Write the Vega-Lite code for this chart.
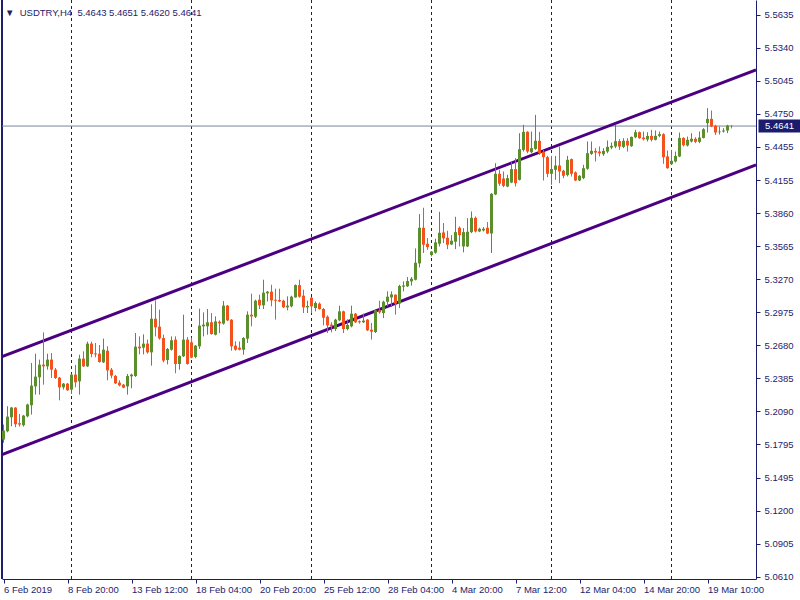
{
  "$schema": "https://vega.github.io/schema/vega-lite/v6.json",
  "width": 754,
  "height": 579,
  "autosize": {"type": "none"},
  "padding": {"left": 2, "top": 0, "right": 44, "bottom": 21},
  "background": "white",
  "config": {
    "view": {"stroke": null},
    "font": "Liberation Sans"
  },
  "title": {
    "text": "▼\u00a0\u00a0USDTRY,H4\u00a0\u00a05.4643 5.4651 5.4620 5.4641",
    "anchor": "start",
    "frame": "group",
    "orient": "top",
    "offset": -13,
    "baseline": "alphabetic",
    "dx": 3,
    "dy": 13,
    "font": "Liberation Sans",
    "fontSize": 9.5,
    "fontWeight": "normal",
    "color": "#1C1C6E"
  },
  "datasets": {
    "bars": [
      {"i":0,"o":5.1836,"h":5.1970,"l":5.1806,"c":5.1916},
      {"i":1,"o":5.1910,"h":5.2134,"l":5.1901,"c":5.2041},
      {"i":2,"o":5.2035,"h":5.2128,"l":5.1955,"c":5.2122},
      {"i":3,"o":5.2122,"h":5.2125,"l":5.1946,"c":5.1973},
      {"i":4,"o":5.1982,"h":5.2065,"l":5.1952,"c":5.1970},
      {"i":5,"o":5.1964,"h":5.2056,"l":5.1952,"c":5.2050},
      {"i":6,"o":5.2044,"h":5.2157,"l":5.2035,"c":5.2149},
      {"i":7,"o":5.2143,"h":5.2521,"l":5.2059,"c":5.2318},
      {"i":8,"o":5.2312,"h":5.2604,"l":5.2238,"c":5.2399},
      {"i":9,"o":5.2393,"h":5.2551,"l":5.2238,"c":5.2506},
      {"i":10,"o":5.2506,"h":5.2795,"l":5.2327,"c":5.2491},
      {"i":11,"o":5.2491,"h":5.2604,"l":5.2461,"c":5.2551},
      {"i":12,"o":5.2551,"h":5.2610,"l":5.2387,"c":5.2461},
      {"i":13,"o":5.2461,"h":5.2476,"l":5.2378,"c":5.2387},
      {"i":14,"o":5.2390,"h":5.2396,"l":5.2187,"c":5.2303},
      {"i":15,"o":5.2303,"h":5.2342,"l":5.2283,"c":5.2336},
      {"i":16,"o":5.2336,"h":5.2342,"l":5.2271,"c":5.2277},
      {"i":17,"o":5.2283,"h":5.2426,"l":5.2244,"c":5.2417},
      {"i":18,"o":5.2417,"h":5.2503,"l":5.2303,"c":5.2348},
      {"i":19,"o":5.2357,"h":5.2595,"l":5.2238,"c":5.2560},
      {"i":20,"o":5.2560,"h":5.2625,"l":5.2485,"c":5.2491},
      {"i":21,"o":5.2491,"h":5.2712,"l":5.2485,"c":5.2694},
      {"i":22,"o":5.2694,"h":5.2712,"l":5.2572,"c":5.2601},
      {"i":23,"o":5.2607,"h":5.2700,"l":5.2572,"c":5.2598},
      {"i":24,"o":5.2604,"h":5.2682,"l":5.2524,"c":5.2530},
      {"i":25,"o":5.2527,"h":5.2739,"l":5.2521,"c":5.2640},
      {"i":26,"o":5.2631,"h":5.2670,"l":5.2366,"c":5.2455},
      {"i":27,"o":5.2461,"h":5.2476,"l":5.2384,"c":5.2408},
      {"i":28,"o":5.2405,"h":5.2414,"l":5.2333,"c":5.2339},
      {"i":29,"o":5.2345,"h":5.2366,"l":5.2312,"c":5.2321},
      {"i":30,"o":5.2327,"h":5.2333,"l":5.2295,"c":5.2300},
      {"i":31,"o":5.2312,"h":5.2423,"l":5.2238,"c":5.2405},
      {"i":32,"o":5.2402,"h":5.2426,"l":5.2295,"c":5.2417},
      {"i":33,"o":5.2405,"h":5.2789,"l":5.2396,"c":5.2667},
      {"i":34,"o":5.2667,"h":5.2759,"l":5.2598,"c":5.2652},
      {"i":35,"o":5.2658,"h":5.2777,"l":5.2598,"c":5.2694},
      {"i":36,"o":5.2694,"h":5.2730,"l":5.2604,"c":5.2616},
      {"i":37,"o":5.2616,"h":5.3046,"l":5.2497,"c":5.2917},
      {"i":38,"o":5.2917,"h":5.3081,"l":5.2759,"c":5.2840},
      {"i":39,"o":5.2846,"h":5.2998,"l":5.2730,"c":5.2741},
      {"i":40,"o":5.2744,"h":5.2774,"l":5.2527,"c":5.2542},
      {"i":41,"o":5.2548,"h":5.2655,"l":5.2509,"c":5.2646},
      {"i":42,"o":5.2640,"h":5.2759,"l":5.2631,"c":5.2724},
      {"i":43,"o":5.2730,"h":5.2759,"l":5.2429,"c":5.2512},
      {"i":44,"o":5.2512,"h":5.2589,"l":5.2461,"c":5.2584},
      {"i":45,"o":5.2581,"h":5.2953,"l":5.2575,"c":5.2730},
      {"i":46,"o":5.2730,"h":5.2753,"l":5.2506,"c":5.2512},
      {"i":47,"o":5.2706,"h":5.2747,"l":5.2563,"c":5.2569},
      {"i":48,"o":5.2575,"h":5.2682,"l":5.2563,"c":5.2676},
      {"i":49,"o":5.2670,"h":5.3007,"l":5.2646,"c":5.2855},
      {"i":50,"o":5.2849,"h":5.2974,"l":5.2759,"c":5.2864},
      {"i":51,"o":5.2849,"h":5.3004,"l":5.2774,"c":5.2885},
      {"i":52,"o":5.2885,"h":5.2968,"l":5.2774,"c":5.2780},
      {"i":53,"o":5.2774,"h":5.2938,"l":5.2768,"c":5.2893},
      {"i":54,"o":5.2890,"h":5.2902,"l":5.2789,"c":5.2876},
      {"i":55,"o":5.2873,"h":5.3075,"l":5.2864,"c":5.3034},
      {"i":56,"o":5.3034,"h":5.3040,"l":5.2896,"c":5.2902},
      {"i":57,"o":5.2908,"h":5.2914,"l":5.2631,"c":5.2670},
      {"i":58,"o":5.2676,"h":5.2715,"l":5.2631,"c":5.2640},
      {"i":59,"o":5.2658,"h":5.2712,"l":5.2634,"c":5.2640},
      {"i":60,"o":5.2640,"h":5.2753,"l":5.2595,"c":5.2744},
      {"i":61,"o":5.2739,"h":5.2983,"l":5.2700,"c":5.2953},
      {"i":62,"o":5.2953,"h":5.3141,"l":5.2849,"c":5.2938},
      {"i":63,"o":5.2935,"h":5.3087,"l":5.2923,"c":5.3078},
      {"i":64,"o":5.3087,"h":5.3132,"l":5.3004,"c":5.3037},
      {"i":65,"o":5.3037,"h":5.3266,"l":5.3004,"c":5.3150},
      {"i":66,"o":5.3144,"h":5.3165,"l":5.3072,"c":5.3159},
      {"i":67,"o":5.3159,"h":5.3221,"l":5.3028,"c":5.3081},
      {"i":68,"o":5.3087,"h":5.3186,"l":5.2909,"c":5.3078},
      {"i":69,"o":5.3084,"h":5.3186,"l":5.3066,"c":5.3072},
      {"i":70,"o":5.3078,"h":5.3087,"l":5.3013,"c":5.3019},
      {"i":71,"o":5.3019,"h":5.3117,"l":5.2992,"c":5.3034},
      {"i":72,"o":5.3028,"h":5.3123,"l":5.3019,"c":5.3114},
      {"i":73,"o":5.3108,"h":5.3224,"l":5.3105,"c":5.3218},
      {"i":74,"o":5.3218,"h":5.3266,"l":5.3105,"c":5.3114},
      {"i":75,"o":5.3123,"h":5.3177,"l":5.2968,"c":5.3019},
      {"i":76,"o":5.3019,"h":5.3078,"l":5.2968,"c":5.3031},
      {"i":77,"o":5.3105,"h":5.3111,"l":5.2968,"c":5.3028},
      {"i":78,"o":5.3013,"h":5.3072,"l":5.2983,"c":5.3058},
      {"i":79,"o":5.3052,"h":5.3063,"l":5.2998,"c":5.3004},
      {"i":80,"o":5.3004,"h":5.3013,"l":5.2858,"c":5.2926},
      {"i":81,"o":5.2935,"h":5.2947,"l":5.2789,"c":5.2858},
      {"i":82,"o":5.2864,"h":5.2885,"l":5.2795,"c":5.2849},
      {"i":83,"o":5.2825,"h":5.2917,"l":5.2807,"c":5.2909},
      {"i":84,"o":5.2903,"h":5.3034,"l":5.2894,"c":5.2983},
      {"i":85,"o":5.2983,"h":5.2989,"l":5.2789,"c":5.2825},
      {"i":86,"o":5.2825,"h":5.2912,"l":5.2813,"c":5.2861},
      {"i":87,"o":5.2849,"h":5.3034,"l":5.2840,"c":5.2962},
      {"i":88,"o":5.2962,"h":5.2968,"l":5.2879,"c":5.2885},
      {"i":89,"o":5.2894,"h":5.2903,"l":5.2873,"c":5.2885},
      {"i":90,"o":5.2885,"h":5.2962,"l":5.2879,"c":5.2900},
      {"i":91,"o":5.2909,"h":5.2914,"l":5.2807,"c":5.2813},
      {"i":92,"o":5.2819,"h":5.2879,"l":5.2730,"c":5.2801},
      {"i":93,"o":5.2798,"h":5.2998,"l":5.2789,"c":5.2992},
      {"i":94,"o":5.2992,"h":5.3078,"l":5.2962,"c":5.2974},
      {"i":95,"o":5.2968,"h":5.3078,"l":5.2923,"c":5.3069},
      {"i":96,"o":5.3069,"h":5.3162,"l":5.3028,"c":5.3114},
      {"i":97,"o":5.3108,"h":5.3162,"l":5.3022,"c":5.3135},
      {"i":98,"o":5.3132,"h":5.3135,"l":5.2953,"c":5.3052},
      {"i":99,"o":5.3052,"h":5.3221,"l":5.3013,"c":5.3210},
      {"i":100,"o":5.3204,"h":5.3251,"l":5.3162,"c":5.3215},
      {"i":101,"o":5.3207,"h":5.3290,"l":5.3201,"c":5.3254},
      {"i":102,"o":5.3251,"h":5.3290,"l":5.3213,"c":5.3275},
      {"i":103,"o":5.3266,"h":5.3546,"l":5.3260,"c":5.3418},
      {"i":104,"o":5.3412,"h":5.3853,"l":5.3376,"c":5.3731},
      {"i":105,"o":5.3731,"h":5.3910,"l":5.3505,"c":5.3579},
      {"i":106,"o":5.3588,"h":5.3639,"l":5.3534,"c":5.3558},
      {"i":107,"o":5.3487,"h":5.3522,"l":5.3475,"c":5.3517},
      {"i":108,"o":5.3508,"h":5.3633,"l":5.3499,"c":5.3600},
      {"i":109,"o":5.3588,"h":5.3874,"l":5.3564,"c":5.3686},
      {"i":110,"o":5.3689,"h":5.3773,"l":5.3594,"c":5.3636},
      {"i":111,"o":5.3641,"h":5.3704,"l":5.3540,"c":5.3579},
      {"i":112,"o":5.3582,"h":5.3665,"l":5.3576,"c":5.3615},
      {"i":113,"o":5.3606,"h":5.3829,"l":5.3540,"c":5.3692},
      {"i":114,"o":5.3731,"h":5.3743,"l":5.3564,"c":5.3665},
      {"i":115,"o":5.3564,"h":5.3728,"l":5.3511,"c":5.3692},
      {"i":116,"o":5.3564,"h":5.3817,"l":5.3558,"c":5.3695},
      {"i":117,"o":5.3692,"h":5.3877,"l":5.3683,"c":5.3820},
      {"i":118,"o":5.3820,"h":5.3832,"l":5.3689,"c":5.3698},
      {"i":119,"o":5.3698,"h":5.3731,"l":5.3692,"c":5.3722},
      {"i":120,"o":5.3707,"h":5.3737,"l":5.3698,"c":5.3722},
      {"i":121,"o":5.3731,"h":5.3782,"l":5.3674,"c":5.3680},
      {"i":122,"o":5.3680,"h":5.4041,"l":5.3505,"c":5.4035},
      {"i":123,"o":5.4029,"h":5.4309,"l":5.4023,"c":5.4214},
      {"i":124,"o":5.4214,"h":5.4250,"l":5.4106,"c":5.4125},
      {"i":125,"o":5.4172,"h":5.4235,"l":5.4094,"c":5.4106},
      {"i":126,"o":5.4100,"h":5.4205,"l":5.4094,"c":5.4175},
      {"i":127,"o":5.4136,"h":5.4324,"l":5.4130,"c":5.4256},
      {"i":128,"o":5.4256,"h":5.4354,"l":5.4100,"c":5.4130},
      {"i":129,"o":5.4160,"h":5.4577,"l":5.4154,"c":5.4434},
      {"i":130,"o":5.4428,"h":5.4652,"l":5.4413,"c":5.4589},
      {"i":131,"o":5.4589,"h":5.4595,"l":5.4398,"c":5.4413},
      {"i":132,"o":5.4407,"h":5.4592,"l":5.4398,"c":5.4443},
      {"i":133,"o":5.4437,"h":5.4741,"l":5.4428,"c":5.4509},
      {"i":134,"o":5.4509,"h":5.4589,"l":5.4383,"c":5.4398},
      {"i":135,"o":5.4410,"h":5.4428,"l":5.4154,"c":5.4363},
      {"i":136,"o":5.4363,"h":5.4374,"l":5.4184,"c":5.4214},
      {"i":137,"o":5.4214,"h":5.4374,"l":5.4115,"c":5.4256},
      {"i":138,"o":5.4250,"h":5.4374,"l":5.4160,"c":5.4288},
      {"i":139,"o":5.4288,"h":5.4458,"l":5.4130,"c":5.4235},
      {"i":140,"o":5.4241,"h":5.4250,"l":5.4175,"c":5.4196},
      {"i":141,"o":5.4202,"h":5.4374,"l":5.4190,"c":5.4339},
      {"i":142,"o":5.4345,"h":5.4351,"l":5.4190,"c":5.4214},
      {"i":143,"o":5.4226,"h":5.4235,"l":5.4148,"c":5.4154},
      {"i":144,"o":5.4154,"h":5.4202,"l":5.4148,"c":5.4196},
      {"i":145,"o":5.4175,"h":5.4294,"l":5.4166,"c":5.4264},
      {"i":146,"o":5.4259,"h":5.4503,"l":5.4250,"c":5.4398},
      {"i":147,"o":5.4392,"h":5.4503,"l":5.4383,"c":5.4419},
      {"i":148,"o":5.4419,"h":5.4443,"l":5.4324,"c":5.4404},
      {"i":149,"o":5.4413,"h":5.4458,"l":5.4369,"c":5.4398},
      {"i":150,"o":5.4389,"h":5.4443,"l":5.4374,"c":5.4419},
      {"i":151,"o":5.4413,"h":5.4512,"l":5.4398,"c":5.4455},
      {"i":152,"o":5.4449,"h":5.4494,"l":5.4434,"c":5.4464},
      {"i":153,"o":5.4458,"h":5.4652,"l":5.4443,"c":5.4506},
      {"i":154,"o":5.4506,"h":5.4524,"l":5.4428,"c":5.4458},
      {"i":155,"o":5.4455,"h":5.4532,"l":5.4443,"c":5.4509},
      {"i":156,"o":5.4509,"h":5.4532,"l":5.4413,"c":5.4467},
      {"i":157,"o":5.4461,"h":5.4547,"l":5.4455,"c":5.4544},
      {"i":158,"o":5.4541,"h":5.4607,"l":5.4532,"c":5.4586},
      {"i":159,"o":5.4586,"h":5.4592,"l":5.4527,"c":5.4532},
      {"i":160,"o":5.4538,"h":5.4592,"l":5.4512,"c":5.4524},
      {"i":161,"o":5.4521,"h":5.4586,"l":5.4503,"c":5.4553},
      {"i":162,"o":5.4553,"h":5.4607,"l":5.4503,"c":5.4518},
      {"i":163,"o":5.4518,"h":5.4601,"l":5.4512,"c":5.4553},
      {"i":164,"o":5.4553,"h":5.4592,"l":5.4541,"c":5.4568},
      {"i":165,"o":5.4568,"h":5.4577,"l":5.4303,"c":5.4363},
      {"i":166,"o":5.4369,"h":5.4422,"l":5.4259,"c":5.4264},
      {"i":167,"o":5.4300,"h":5.4428,"l":5.4294,"c":5.4330},
      {"i":168,"o":5.4324,"h":5.4413,"l":5.4315,"c":5.4374},
      {"i":169,"o":5.4369,"h":5.4583,"l":5.4363,"c":5.4535},
      {"i":170,"o":5.4535,"h":5.4541,"l":5.4458,"c":5.4470},
      {"i":171,"o":5.4467,"h":5.4547,"l":5.4458,"c":5.4518},
      {"i":172,"o":5.4503,"h":5.4577,"l":5.4494,"c":5.4527},
      {"i":173,"o":5.4527,"h":5.4541,"l":5.4488,"c":5.4500},
      {"i":174,"o":5.4500,"h":5.4592,"l":5.4488,"c":5.4538},
      {"i":175,"o":5.4535,"h":5.4622,"l":5.4530,"c":5.4613},
      {"i":176,"o":5.4667,"h":5.4801,"l":5.4583,"c":5.4705},
      {"i":177,"o":5.4705,"h":5.4780,"l":5.4631,"c":5.4637},
      {"i":178,"o":5.4643,"h":5.4652,"l":5.4562,"c":5.4583},
      {"i":179,"o":5.4586,"h":5.4637,"l":5.4565,"c":5.4592},
      {"i":180,"o":5.4592,"h":5.4622,"l":5.4583,"c":5.4601},
      {"i":181,"o":5.4601,"h":5.4652,"l":5.4577,"c":5.4646},
      {"i":182,"o":5.4643,"h":5.4651,"l":5.4620,"c":5.4641}
    ],
    "channel": [
      {"line":"upper","i":-0.375,"p":5.2578},
      {"line":"upper","i":188.125,"p":5.5143},
      {"line":"lower","i":-0.375,"p":5.1702},
      {"line":"lower","i":188.125,"p":5.4294}
    ],
    "grid": [{"i":17},{"i":47},{"i":77},{"i":107},{"i":137},{"i":167}],
    "price": [{"p":5.4641}]
  },
  "layer": [
    {
      "data": {"name": "grid"},
      "mark": {"type": "rule", "color": "#1C1C6E", "strokeWidth": 1, "strokeDash": [3, 3]},
      "encoding": {
        "x": {"field": "i", "type": "quantitative", "scale": {"domain": [-0.375, 188.125], "nice": false, "zero": false, "padding": 0},
          "axis": {"orient": "bottom", "title": null, "values": [0, 16, 32, 48, 64, 80, 96, 112, 128, 144, 160, 176], "labelExpr": "['6 Feb 2019','8 Feb 20:00','13 Feb 12:00','18 Feb 04:00','20 Feb 20:00','25 Feb 12:00','28 Feb 04:00','4 Mar 20:00','7 Mar 12:00','12 Mar 04:00','14 Mar 20:00','19 Mar 10:00'][round(datum.value / 16)]", "grid": false, "domainColor": "#1C1C6E", "tickColor": "#1C1C6E", "tickSize": 4, "labelColor": "#1C1C6E", "labelFont": "Liberation Sans", "labelFontSize": 9.5, "labelAlign": "left", "labelBaseline": "top", "labelPadding": 1, "labelOverlap": false, "labelFlush": false, "labelBound": false}}
      }
    },
    {
      "data": {"name": "grid"},
      "mark": {"type": "rule", "color": "#1C1C6E", "strokeWidth": 1},
      "encoding": {
        "x": {"datum": -0.375, "type": "quantitative", "scale": {"domain": [-0.375, 188.125], "nice": false, "zero": false, "padding": 0},
          "axis": {"orient": "bottom", "title": null, "values": [0, 16, 32, 48, 64, 80, 96, 112, 128, 144, 160, 176], "labelExpr": "['6 Feb 2019','8 Feb 20:00','13 Feb 12:00','18 Feb 04:00','20 Feb 20:00','25 Feb 12:00','28 Feb 04:00','4 Mar 20:00','7 Mar 12:00','12 Mar 04:00','14 Mar 20:00','19 Mar 10:00'][round(datum.value / 16)]", "grid": false, "domainColor": "#1C1C6E", "tickColor": "#1C1C6E", "tickSize": 4, "labelColor": "#1C1C6E", "labelFont": "Liberation Sans", "labelFontSize": 9.5, "labelAlign": "left", "labelBaseline": "top", "labelPadding": 1, "labelOverlap": false, "labelFlush": false, "labelBound": false}}
      }
    },
    {
      "data": {"name": "price"},
      "mark": {"type": "rule", "color": "#778899", "strokeWidth": 1},
      "encoding": {
        "y": {"field": "p", "type": "quantitative", "scale": {"domain": [5.0588, 5.5769], "nice": false, "zero": false, "padding": 0},
          "axis": {"orient": "right", "title": null, "values": [5.5635, 5.5340, 5.5045, 5.4750, 5.4455, 5.4155, 5.3860, 5.3565, 5.3270, 5.2975, 5.2680, 5.2385, 5.2090, 5.1795, 5.1495, 5.1200, 5.0905, 5.0610], "format": ".4f", "grid": false, "domainColor": "#1C1C6E", "tickColor": "#1C1C6E", "tickSize": 4, "labelColor": "#1C1C6E", "labelFont": "Liberation Sans", "labelFontSize": 9.5, "labelPadding": 4, "labelOverlap": false, "labelFlush": false, "labelBound": false}}
      }
    },
    {
      "data": {"name": "channel"},
      "mark": {"type": "line", "color": "#4B0082", "strokeWidth": 3, "clip": true},
      "encoding": {
        "x": {"field": "i", "type": "quantitative", "scale": {"domain": [-0.375, 188.125], "nice": false, "zero": false, "padding": 0},
          "axis": {"orient": "bottom", "title": null, "values": [0, 16, 32, 48, 64, 80, 96, 112, 128, 144, 160, 176], "labelExpr": "['6 Feb 2019','8 Feb 20:00','13 Feb 12:00','18 Feb 04:00','20 Feb 20:00','25 Feb 12:00','28 Feb 04:00','4 Mar 20:00','7 Mar 12:00','12 Mar 04:00','14 Mar 20:00','19 Mar 10:00'][round(datum.value / 16)]", "grid": false, "domainColor": "#1C1C6E", "tickColor": "#1C1C6E", "tickSize": 4, "labelColor": "#1C1C6E", "labelFont": "Liberation Sans", "labelFontSize": 9.5, "labelAlign": "left", "labelBaseline": "top", "labelPadding": 1, "labelOverlap": false, "labelFlush": false, "labelBound": false}},
        "y": {"field": "p", "type": "quantitative", "scale": {"domain": [5.0588, 5.5769], "nice": false, "zero": false, "padding": 0},
          "axis": {"orient": "right", "title": null, "values": [5.5635, 5.5340, 5.5045, 5.4750, 5.4455, 5.4155, 5.3860, 5.3565, 5.3270, 5.2975, 5.2680, 5.2385, 5.2090, 5.1795, 5.1495, 5.1200, 5.0905, 5.0610], "format": ".4f", "grid": false, "domainColor": "#1C1C6E", "tickColor": "#1C1C6E", "tickSize": 4, "labelColor": "#1C1C6E", "labelFont": "Liberation Sans", "labelFontSize": 9.5, "labelPadding": 4, "labelOverlap": false, "labelFlush": false, "labelBound": false}},
        "detail": {"field": "line"}
      }
    },
    {
      "data": {"name": "bars"},
      "mark": {"type": "rule", "strokeWidth": 1},
      "encoding": {
        "x": {"field": "i", "type": "quantitative", "scale": {"domain": [-0.375, 188.125], "nice": false, "zero": false, "padding": 0},
          "axis": {"orient": "bottom", "title": null, "values": [0, 16, 32, 48, 64, 80, 96, 112, 128, 144, 160, 176], "labelExpr": "['6 Feb 2019','8 Feb 20:00','13 Feb 12:00','18 Feb 04:00','20 Feb 20:00','25 Feb 12:00','28 Feb 04:00','4 Mar 20:00','7 Mar 12:00','12 Mar 04:00','14 Mar 20:00','19 Mar 10:00'][round(datum.value / 16)]", "grid": false, "domainColor": "#1C1C6E", "tickColor": "#1C1C6E", "tickSize": 4, "labelColor": "#1C1C6E", "labelFont": "Liberation Sans", "labelFontSize": 9.5, "labelAlign": "left", "labelBaseline": "top", "labelPadding": 1, "labelOverlap": false, "labelFlush": false, "labelBound": false}},
        "y": {"field": "l", "type": "quantitative", "scale": {"domain": [5.0588, 5.5769], "nice": false, "zero": false, "padding": 0},
          "axis": {"orient": "right", "title": null, "values": [5.5635, 5.5340, 5.5045, 5.4750, 5.4455, 5.4155, 5.3860, 5.3565, 5.3270, 5.2975, 5.2680, 5.2385, 5.2090, 5.1795, 5.1495, 5.1200, 5.0905, 5.0610], "format": ".4f", "grid": false, "domainColor": "#1C1C6E", "tickColor": "#1C1C6E", "tickSize": 4, "labelColor": "#1C1C6E", "labelFont": "Liberation Sans", "labelFontSize": 9.5, "labelPadding": 4, "labelOverlap": false, "labelFlush": false, "labelBound": false}},
        "y2": {"field": "h"},
        "color": {"condition": {"test": "datum.c >= datum.o", "value": "#5B8E2D"}, "value": "#F4511E"}
      }
    },
    {
      "data": {"name": "bars"},
      "mark": {"type": "bar", "size": 3},
      "encoding": {
        "x": {"field": "i", "type": "quantitative", "scale": {"domain": [-0.375, 188.125], "nice": false, "zero": false, "padding": 0},
          "axis": {"orient": "bottom", "title": null, "values": [0, 16, 32, 48, 64, 80, 96, 112, 128, 144, 160, 176], "labelExpr": "['6 Feb 2019','8 Feb 20:00','13 Feb 12:00','18 Feb 04:00','20 Feb 20:00','25 Feb 12:00','28 Feb 04:00','4 Mar 20:00','7 Mar 12:00','12 Mar 04:00','14 Mar 20:00','19 Mar 10:00'][round(datum.value / 16)]", "grid": false, "domainColor": "#1C1C6E", "tickColor": "#1C1C6E", "tickSize": 4, "labelColor": "#1C1C6E", "labelFont": "Liberation Sans", "labelFontSize": 9.5, "labelAlign": "left", "labelBaseline": "top", "labelPadding": 1, "labelOverlap": false, "labelFlush": false, "labelBound": false}},
        "y": {"field": "o", "type": "quantitative", "scale": {"domain": [5.0588, 5.5769], "nice": false, "zero": false, "padding": 0},
          "axis": {"orient": "right", "title": null, "values": [5.5635, 5.5340, 5.5045, 5.4750, 5.4455, 5.4155, 5.3860, 5.3565, 5.3270, 5.2975, 5.2680, 5.2385, 5.2090, 5.1795, 5.1495, 5.1200, 5.0905, 5.0610], "format": ".4f", "grid": false, "domainColor": "#1C1C6E", "tickColor": "#1C1C6E", "tickSize": 4, "labelColor": "#1C1C6E", "labelFont": "Liberation Sans", "labelFontSize": 9.5, "labelPadding": 4, "labelOverlap": false, "labelFlush": false, "labelBound": false}},
        "y2": {"field": "c"},
        "color": {"condition": {"test": "datum.c >= datum.o", "value": "#5B8E2D"}, "value": "#F4511E"}
      }
    },
    {
      "data": {"name": "price"},
      "mark": {"type": "bar", "size": 13, "color": "#1C1C6E", "clip": false},
      "encoding": {
        "x": {"datum": 188.75, "type": "quantitative", "scale": {"domain": [-0.375, 188.125], "nice": false, "zero": false, "padding": 0},
          "axis": {"orient": "bottom", "title": null, "values": [0, 16, 32, 48, 64, 80, 96, 112, 128, 144, 160, 176], "labelExpr": "['6 Feb 2019','8 Feb 20:00','13 Feb 12:00','18 Feb 04:00','20 Feb 20:00','25 Feb 12:00','28 Feb 04:00','4 Mar 20:00','7 Mar 12:00','12 Mar 04:00','14 Mar 20:00','19 Mar 10:00'][round(datum.value / 16)]", "grid": false, "domainColor": "#1C1C6E", "tickColor": "#1C1C6E", "tickSize": 4, "labelColor": "#1C1C6E", "labelFont": "Liberation Sans", "labelFontSize": 9.5, "labelAlign": "left", "labelBaseline": "top", "labelPadding": 1, "labelOverlap": false, "labelFlush": false, "labelBound": false}},
        "x2": {"datum": 199.5},
        "y": {"field": "p", "type": "quantitative", "scale": {"domain": [5.0588, 5.5769], "nice": false, "zero": false, "padding": 0},
          "axis": {"orient": "right", "title": null, "values": [5.5635, 5.5340, 5.5045, 5.4750, 5.4455, 5.4155, 5.3860, 5.3565, 5.3270, 5.2975, 5.2680, 5.2385, 5.2090, 5.1795, 5.1495, 5.1200, 5.0905, 5.0610], "format": ".4f", "grid": false, "domainColor": "#1C1C6E", "tickColor": "#1C1C6E", "tickSize": 4, "labelColor": "#1C1C6E", "labelFont": "Liberation Sans", "labelFontSize": 9.5, "labelPadding": 4, "labelOverlap": false, "labelFlush": false, "labelBound": false}}
      }
    },
    {
      "data": {"name": "price"},
      "mark": {"type": "text", "color": "white", "font": "Liberation Sans", "fontSize": 9.5, "align": "center", "baseline": "middle", "clip": false},
      "encoding": {
        "x": {"datum": 194, "type": "quantitative", "scale": {"domain": [-0.375, 188.125], "nice": false, "zero": false, "padding": 0},
          "axis": {"orient": "bottom", "title": null, "values": [0, 16, 32, 48, 64, 80, 96, 112, 128, 144, 160, 176], "labelExpr": "['6 Feb 2019','8 Feb 20:00','13 Feb 12:00','18 Feb 04:00','20 Feb 20:00','25 Feb 12:00','28 Feb 04:00','4 Mar 20:00','7 Mar 12:00','12 Mar 04:00','14 Mar 20:00','19 Mar 10:00'][round(datum.value / 16)]", "grid": false, "domainColor": "#1C1C6E", "tickColor": "#1C1C6E", "tickSize": 4, "labelColor": "#1C1C6E", "labelFont": "Liberation Sans", "labelFontSize": 9.5, "labelAlign": "left", "labelBaseline": "top", "labelPadding": 1, "labelOverlap": false, "labelFlush": false, "labelBound": false}},
        "y": {"field": "p", "type": "quantitative", "scale": {"domain": [5.0588, 5.5769], "nice": false, "zero": false, "padding": 0},
          "axis": {"orient": "right", "title": null, "values": [5.5635, 5.5340, 5.5045, 5.4750, 5.4455, 5.4155, 5.3860, 5.3565, 5.3270, 5.2975, 5.2680, 5.2385, 5.2090, 5.1795, 5.1495, 5.1200, 5.0905, 5.0610], "format": ".4f", "grid": false, "domainColor": "#1C1C6E", "tickColor": "#1C1C6E", "tickSize": 4, "labelColor": "#1C1C6E", "labelFont": "Liberation Sans", "labelFontSize": 9.5, "labelPadding": 4, "labelOverlap": false, "labelFlush": false, "labelBound": false}},
        "text": {"field": "p", "type": "quantitative", "format": ".4f"}
      }
    }
  ]
}
